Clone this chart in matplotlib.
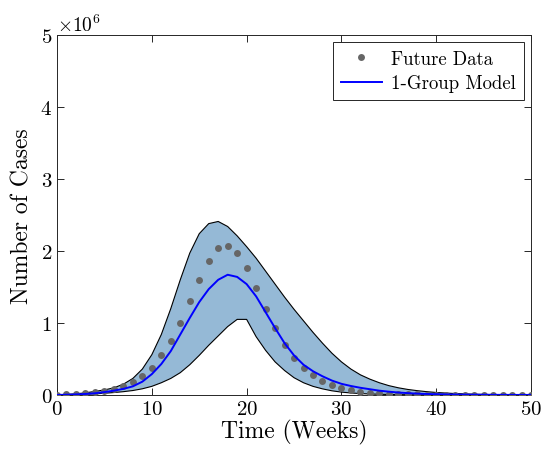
import matplotlib
matplotlib.use("Agg")
import matplotlib.pyplot as plt
import numpy as np
from matplotlib.ticker import ScalarFormatter

# data (millions of cases), one value per week
weeks = np.arange(0, 51)
future_data = [0.0, 0.01, 0.012, 0.027, 0.037, 0.055, 0.09, 0.13, 0.185, 0.27,
               0.38, 0.55, 0.75, 1.005, 1.305, 1.60, 1.865, 2.04, 2.075, 1.97,
               1.76, 1.48, 1.19, 0.93, 0.70, 0.52, 0.38, 0.28, 0.20, 0.14,
               0.10, 0.07, 0.046, 0.032, 0.023, 0.017, 0.013, 0.01, 0.008, 0.006,
               0.005, 0.004, 0.003, 0.002, 0.002, 0.001, 0.001, 0.001, 0.0, 0.0, 0.0]
model = [0.0, 0.004, 0.008, 0.014, 0.024, 0.04, 0.06, 0.085, 0.12, 0.185,
         0.29, 0.43, 0.61, 0.84, 1.07, 1.29, 1.47, 1.60, 1.67, 1.64,
         1.54, 1.37, 1.15, 0.93, 0.72, 0.55, 0.42, 0.33, 0.26, 0.20,
         0.155, 0.125, 0.10, 0.08, 0.06, 0.046, 0.034, 0.026, 0.019, 0.014,
         0.011, 0.008, 0.006, 0.005, 0.004, 0.003, 0.002, 0.002, 0.001, 0.001, 0.001]
upper = [0.0, 0.008, 0.016, 0.03, 0.05, 0.07, 0.10, 0.15, 0.23, 0.36,
         0.56, 0.84, 1.20, 1.60, 1.97, 2.24, 2.38, 2.41, 2.34, 2.21,
         2.06, 1.90, 1.72, 1.54, 1.36, 1.19, 1.03, 0.87, 0.72, 0.58,
         0.46, 0.36, 0.28, 0.22, 0.17, 0.13, 0.10, 0.077, 0.06, 0.046,
         0.035, 0.027, 0.02, 0.015, 0.011, 0.008, 0.006, 0.004, 0.003, 0.002, 0.0015]
lower = [0.0, 0.003, 0.006, 0.01, 0.016, 0.024, 0.034, 0.046, 0.062, 0.086,
         0.12, 0.17, 0.23, 0.31, 0.42, 0.55, 0.69, 0.82, 0.95, 1.05,
         1.05, 0.81, 0.62, 0.46, 0.34, 0.24, 0.17, 0.12, 0.085, 0.058,
         0.04, 0.028, 0.02, 0.014, 0.01, 0.007, 0.005, 0.0035, 0.0025, 0.0018,
         0.0012, 0.0009, 0.0006, 0.0004, 0.0003, 0.0002, 0.0001, 0.0001, 0.0, 0.0, 0.0]

scale = 1e6

plt.rcParams["font.family"] = "serif"
plt.rcParams["font.serif"] = ["cmr10"]
plt.rcParams["mathtext.fontset"] = "cm"
plt.rcParams["axes.formatter.use_mathtext"] = True

fig = plt.figure(figsize=(5.43, 4.56), dpi=100)
ax = fig.add_axes([0.105, 0.1316, 0.873, 0.7895])

ax.fill_between(weeks, np.array(lower) * scale, np.array(upper) * scale,
                facecolor="#95b9d6", edgecolor="none", zorder=1)
ax.plot(weeks, np.array(upper) * scale, color="black", linewidth=0.8, zorder=2)
ax.plot(weeks, np.array(lower) * scale, color="black", linewidth=0.8, zorder=2)
ax.plot(weeks, np.array(future_data) * scale, "o", color="#666666",
        markersize=5, markeredgewidth=0, label="Future Data", zorder=3)
ax.plot(weeks, np.array(model) * scale, color="#0000ff", linewidth=1.4,
        label="1-Group Model", zorder=4)

ax.set_xlim(0, 50)
ax.set_ylim(0, 5e6)
ax.set_xticks([0, 10, 20, 30, 40, 50])
ax.set_yticks(np.arange(0, 6) * 1e6)
fmt = ScalarFormatter(useMathText=True)
fmt.set_powerlimits((0, 0))
ax.yaxis.set_major_formatter(fmt)
ax.yaxis.get_offset_text().set_fontsize(14)

ax.tick_params(direction="in", top=True, right=True, length=5, width=0.7,
               labelsize=15, colors="#262626", labelcolor="black")
for s in ax.spines.values():
    s.set_color("#262626")
    s.set_linewidth(0.7)

ax.set_xlabel("Time (Weeks)", fontsize=17, labelpad=1)
ax.set_ylabel("Number of Cases", fontsize=17, labelpad=5)

leg = ax.legend(loc="upper right", fontsize=13.5, frameon=True, fancybox=False,
                framealpha=1, edgecolor="#262626", handlelength=2.2,
                borderpad=0.4, labelspacing=0.35, handletextpad=0.5,
                borderaxespad=0.4)
leg.get_frame().set_linewidth(0.7)

fig.savefig("out.png", dpi=100)
